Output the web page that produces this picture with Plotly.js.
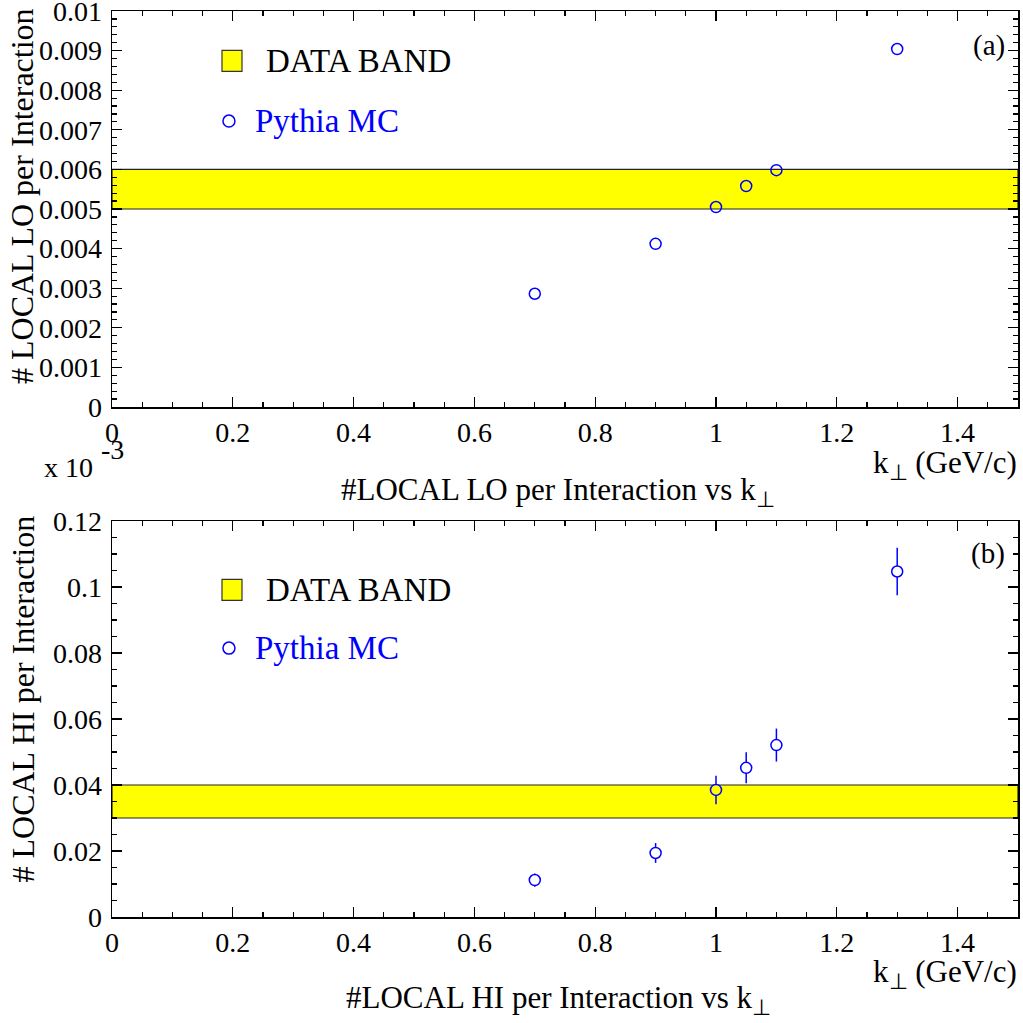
<!DOCTYPE html>
<html>
<head>
<meta charset="utf-8">
<script src="https://cdn.plot.ly/plotly-3.0.1.min.js"></script>
<style>
  html, body { margin: 0; padding: 0; background: #fff; }
  #chart { width: 1023px; height: 1023px; }
</style>
</head>
<body>
<div id="chart"></div>
<script>
// Transverse momentum kick values (GeV/c)
const ktValues = [0.7, 0.9, 1.0, 1.05, 1.1, 1.3];

// Pythia MC: LOCAL LO rate per interaction
const localLoRate = [0.00286, 0.00412, 0.00505, 0.00558, 0.00598, 0.00904];

// Pythia MC: LOCAL HI rate per interaction, with statistical errors
const localHiRate = [0.0112, 0.0194, 0.0385, 0.0452, 0.0521, 0.1047];
const localHiErr  = [0.0020, 0.0030, 0.0043, 0.0047, 0.0050, 0.0072];

// Measured data bands [low, high]
const loDataBand = [0.005, 0.006];
const hiDataBand = [0.03, 0.04];

// Major tick labels of the y axes
const loTicks = [0, 0.001, 0.002, 0.003, 0.004, 0.005, 0.006, 0.007, 0.008, 0.009, 0.01];
const loTickText = ['0', '0.001', '0.002', '0.003', '0.004', '0.005', '0.006', '0.007', '0.008', '0.009', '0.01'];
const hiTicks = [0, 0.02, 0.04, 0.06, 0.08, 0.1, 0.12];
const hiTickText = ['0', '0.02', '0.04', '0.06', '0.08', '0.1', '0.12'];

// Axis ranges
const ktRange = [0, 1.5];
const loRange = [0, 0.01];
const hiRange = [0, 0.12];

const FONT = 'Liberation Serif, Times New Roman, serif';
const BLUE = '#0000ff';
const YELLOW = '#ffff00';

// Figure geometry (pixels) used to place free text
const W = 1023, H = 1023;
const M = { l: 112, r: 5, t: 11, b: 106 };
const plotW = W - M.l - M.r;
const plotH = H - M.t - M.b;
const px = x => (x - M.l) / plotW;
const py = y => (H - M.b - y) / plotH;

const topDomain = [py(407), 1];
const botDomain = [0, py(521)];

function xAxisDef(anchor) {
  return {
    anchor: anchor,
    range: ktRange,
    tick0: 0, dtick: 0.2,
    ticks: 'inside', ticklen: 10, tickwidth: 1.2, tickcolor: '#000',
    minor: { dtick: 0.05, ticks: 'inside', ticklen: 5, tickwidth: 1.2, tickcolor: '#000' },
    showline: true, linecolor: '#000', linewidth: 1.5, mirror: 'allticks',
    showgrid: false, zeroline: false,
    tickfont: { family: FONT, size: 28, color: '#000' },
    fixedrange: true
  };
}
function yAxisDef(anchor, domain, range, vals, text, minorDtick) {
  return {
    anchor: anchor,
    domain: domain,
    range: range,
    tickmode: 'array', tickvals: vals, ticktext: text,
    ticks: 'inside', ticklen: 10, tickwidth: 1.2, tickcolor: '#000',
    minor: { tick0: 0, dtick: minorDtick, ticks: 'inside', ticklen: 5, tickwidth: 1.2, tickcolor: '#000' },
    showline: true, linecolor: '#000', linewidth: 1.5, mirror: 'allticks',
    showgrid: false, zeroline: false,
    ticklabelstandoff: 3,
    ticklabeloverflow: 'allow',
    tickfont: { family: FONT, size: 28, color: '#000' },
    fixedrange: true
  };
}

// Marker interiors show the background (band colour when inside the band),
// so the error bar stops at the circle edge.
const hiMarkerFill = localHiRate.map(v => (v >= hiDataBand[0] && v <= hiDataBand[1]) ? YELLOW : '#ffffff');

const traces = [
  {
    type: 'scatter', mode: 'markers',
    x: ktValues, y: localLoRate,
    xaxis: 'x', yaxis: 'y',
    marker: { symbol: 'circle-open', size: 11, color: BLUE, line: { width: 1.5, color: BLUE } },
    showlegend: false, hoverinfo: 'x+y'
  },
  {
    type: 'scatter', mode: 'markers',
    x: ktValues, y: localHiRate,
    xaxis: 'x2', yaxis: 'y2',
    error_y: { type: 'data', array: localHiErr, visible: true, width: 0, thickness: 1.5, color: BLUE },
    marker: { symbol: 'circle', size: 11, color: hiMarkerFill, line: { width: 1.5, color: BLUE } },
    showlegend: false, hoverinfo: 'x+y'
  }
];

function band(xref, yref, b) {
  return {
    type: 'rect', layer: 'below', xref: xref, yref: yref,
    x0: ktRange[0], x1: ktRange[1], y0: b[0], y1: b[1],
    fillcolor: YELLOW, line: { color: '#222', width: 1.2 }
  };
}

// Legend key: yellow box + open circle, placed in axis-domain units
function legendShapes(xd, yd, boxY, circY) {
  const bw = 20 / plotW, bh = 21 / (407 - 11);
  const rx = 6 / plotW, ry = 6 / (407 - 11);
  return [
    { type: 'rect', xref: xd, yref: yd,
      x0: 0.1214, x1: 0.1214 + bw, y0: boxY - bh / 2, y1: boxY + bh / 2,
      fillcolor: YELLOW, line: { color: '#333', width: 1.2 } },
    { type: 'circle', xref: xd, yref: yd,
      x0: 0.1291 - rx, x1: 0.1291 + rx, y0: circY - ry, y1: circY + ry,
      fillcolor: 'rgba(0,0,0,0)', line: { color: BLUE, width: 1.5 } }
  ];
}

const shapes = [
  band('x', 'y', loDataBand),
  band('x2', 'y2', hiDataBand),
  ...legendShapes('x domain', 'y domain', 0.874, 0.722),
  ...legendShapes('x2 domain', 'y2 domain', 0.826, 0.679)
];

function txt(text, x, y, opts) {
  return Object.assign({
    text: text, x: x, y: y, xref: 'paper', yref: 'paper',
    showarrow: false, font: { family: FONT, size: 31, color: '#000' }
  }, opts || {});
}

const LEG = { family: FONT, size: 33, color: '#000' };
const LEGB = { family: FONT, size: 33, color: BLUE };

const annotations = [
  // legend texts
  { text: 'DATA BAND', xref: 'x domain', yref: 'y domain', x: 0.1678, y: 0.874,
    xanchor: 'left', yanchor: 'middle', showarrow: false, font: LEG },
  { text: 'Pythia MC', xref: 'x domain', yref: 'y domain', x: 0.1556, y: 0.722,
    xanchor: 'left', yanchor: 'middle', showarrow: false, font: LEGB },
  { text: 'DATA BAND', xref: 'x2 domain', yref: 'y2 domain', x: 0.1678, y: 0.826,
    xanchor: 'left', yanchor: 'middle', showarrow: false, font: LEG },
  { text: 'Pythia MC', xref: 'x2 domain', yref: 'y2 domain', x: 0.1556, y: 0.679,
    xanchor: 'left', yanchor: 'middle', showarrow: false, font: LEGB },
  // panel tags
  { text: '(a)', xref: 'x domain', yref: 'y domain', x: 0.988, y: 0.914,
    xanchor: 'right', yanchor: 'middle', showarrow: false, font: { family: FONT, size: 29, color: '#000' } },
  { text: '(b)', xref: 'x2 domain', yref: 'y2 domain', x: 0.988, y: 0.919,
    xanchor: 'right', yanchor: 'middle', showarrow: false, font: { family: FONT, size: 29, color: '#000' } },
  // y titles
  txt('# LOCAL LO per Interaction', px(22), py(6), { textangle: -90, xanchor: 'center', yanchor: 'top', font: { family: FONT, size: 32, color: '#000' } }),
  txt('# LOCAL HI per Interaction', px(22), py(514), { textangle: -90, xanchor: 'center', yanchor: 'top', font: { family: FONT, size: 32, color: '#000' } }),
  // x titles
  txt('k<sub>⊥</sub> (GeV/c)', px(1019), py(465), { xanchor: 'right', yanchor: 'middle' }),
  txt('k<sub>⊥</sub> (GeV/c)', px(1019), py(974), { xanchor: 'right', yanchor: 'middle' }),
  txt('#LOCAL LO per Interaction vs k<sub>⊥</sub>', px(558), py(492), { xanchor: 'center', yanchor: 'middle' }),
  txt('#LOCAL HI per Interaction vs k<sub>⊥</sub>', px(558), py(1000), { xanchor: 'center', yanchor: 'middle' }),
  // exponent note for the upper y axis
  txt('x 10', px(42), py(467), { xanchor: 'left', yanchor: 'middle', font: { family: FONT, size: 28, color: '#000' } }),
  txt('-3', px(99), py(449), { xanchor: 'left', yanchor: 'middle', font: { family: FONT, size: 28, color: '#000' } })
];

const layout = {
  width: W, height: H,
  margin: M,
  paper_bgcolor: '#fff', plot_bgcolor: '#fff',
  showlegend: false,
  xaxis: xAxisDef('y'),
  yaxis: yAxisDef('x', topDomain, loRange, loTicks, loTickText, 0.0002),
  xaxis2: xAxisDef('y2'),
  yaxis2: yAxisDef('x2', botDomain, hiRange, hiTicks, hiTickText, 0.005),
  shapes: shapes,
  annotations: annotations
};

Plotly.newPlot('chart', traces, layout, { staticPlot: true, displayModeBar: false });
</script>
</body>
</html>
